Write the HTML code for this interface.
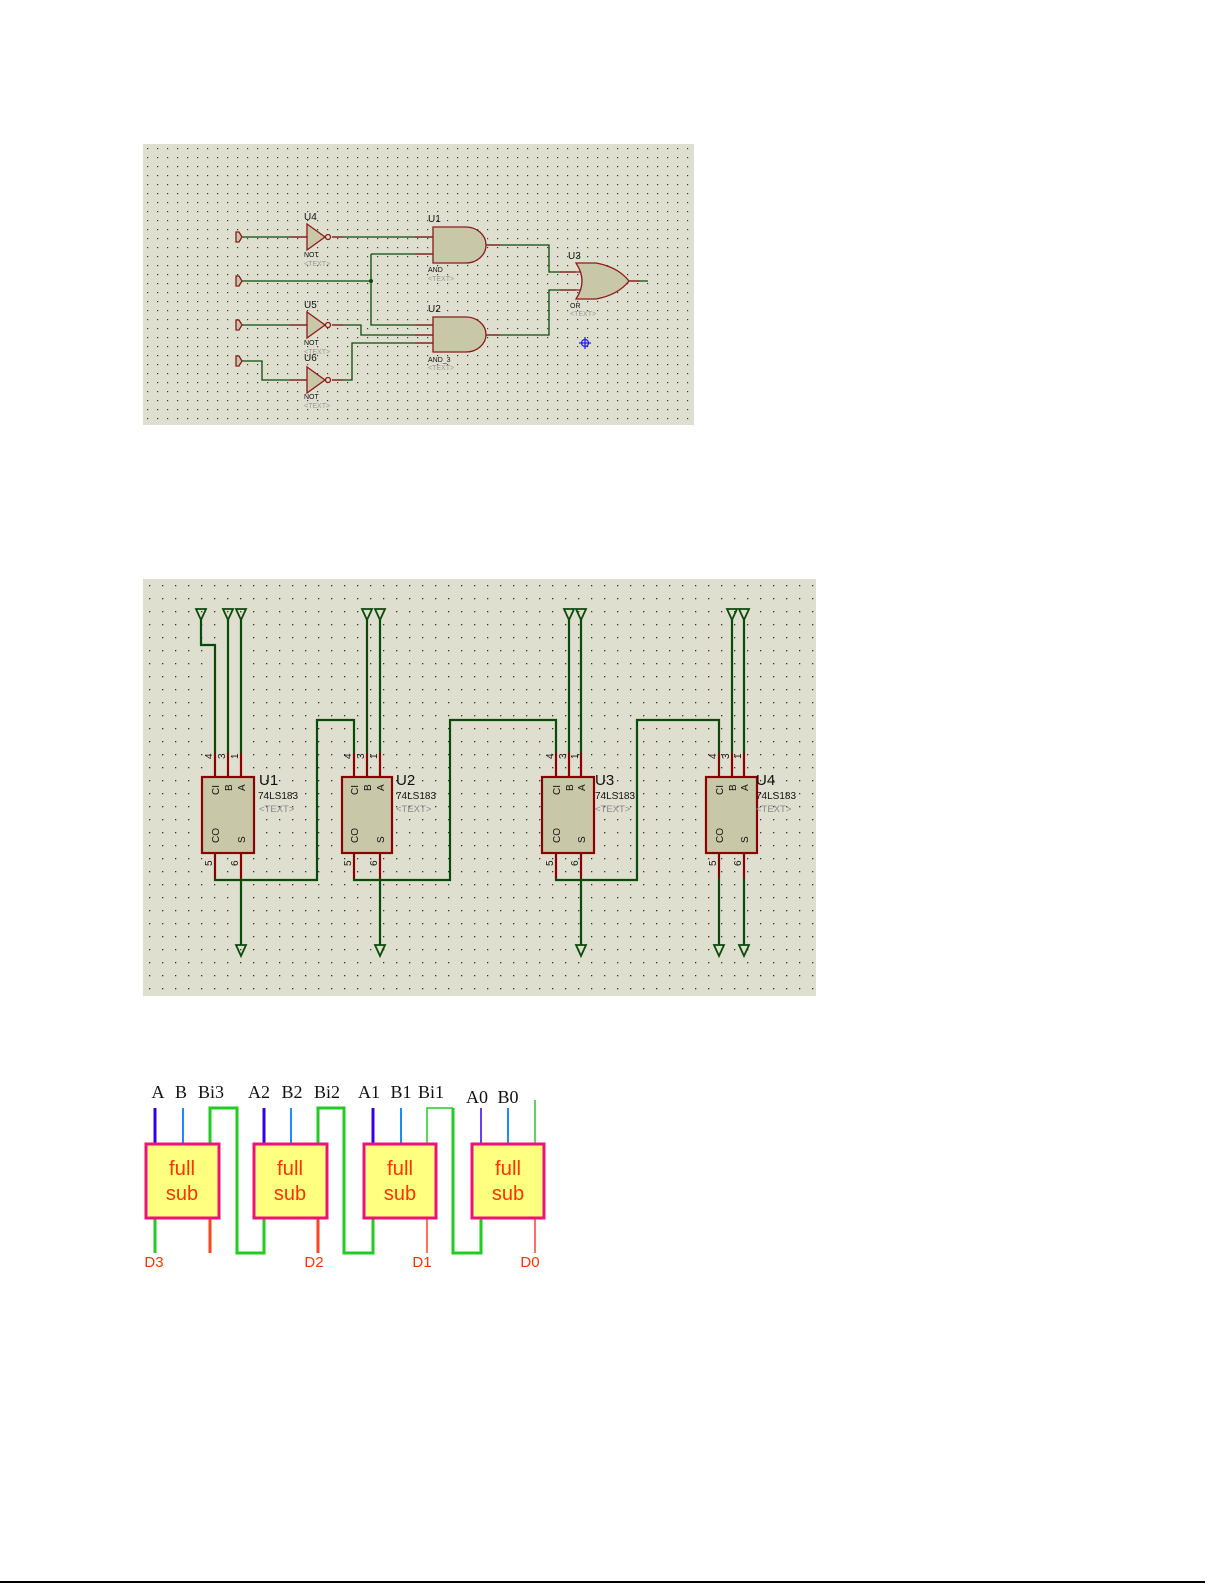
<!DOCTYPE html>
<html><head><meta charset="utf-8"><style>
html,body{margin:0;padding:0;background:#fff;width:1225px;height:1585px;overflow:hidden}
svg{display:block}
</style></head><body>
<svg width="1225" height="1585" viewBox="0 0 1225 1585" xmlns="http://www.w3.org/2000/svg" font-family="Liberation Sans, sans-serif">
<defs>
<pattern id="g1" x="143" y="144" width="10" height="9" patternUnits="userSpaceOnUse"><rect x="4" y="4" width="1.2" height="1.2" fill="#333"/></pattern>
<pattern id="g2" x="143" y="579" width="13" height="13" patternUnits="userSpaceOnUse"><rect x="6" y="6" width="1.3" height="1.3" fill="#333"/></pattern>
</defs>
<!-- Panel 1 -->
<rect x="143" y="144" width="551" height="281" fill="#dfdfcf"/>
<rect x="143" y="144" width="551" height="281" fill="url(#g1)"/>
<g fill="none" stroke-width="1.3">
<g stroke="#0c4a0c">
<path d="M241 237H307"/><path d="M332 237H433"/>
<path d="M241 281H371"/><path d="M371 254V325H433"/><path d="M371 254H433"/>
<path d="M241 325H307"/><path d="M332 325H361V335H433"/>
<path d="M241 361H262V380H307"/><path d="M332 380H352V343H433"/>
<path d="M486 245H549V272H576"/><path d="M486 335H549V290H576"/>
<path d="M629 281H648"/>
</g>
<g stroke="#8b1a1a">
<path d="M290 237H307M332 237H343M415 237H433M415 254H433"/>
<path d="M290 325H307M332 325H343M415 325H433M415 335H433M415 343H433"/>
<path d="M290 380H307M332 380H343"/>
<path d="M486 245H500M486 335H500M560 272H580M560 290H580M629 281H640"/>
</g>
<g stroke="#8b1a1a" fill="#c8c8a8">
<path d="M236 232H239L242 237L239 242H236Z"/>
<path d="M236 276H239L242 281L239 286H236Z"/>
<path d="M236 320H239L242 325L239 330H236Z"/>
<path d="M236 356H239L242 361L239 366H236Z"/>
<path d="M307 224L325 237L307 250Z"/><circle cx="328" cy="237" r="2.5" fill="#dfdfcf"/>
<path d="M307 312L325 325L307 338Z"/><circle cx="328" cy="325" r="2.5" fill="#dfdfcf"/>
<path d="M307 367L325 380L307 393Z"/><circle cx="328" cy="380" r="2.5" fill="#dfdfcf"/>
<path d="M433 227H466A20 18 0 0 1 466 263H433Z"/>
<path d="M433 317H466A20 17.5 0 0 1 466 352H433Z"/>
<path d="M576 263Q588 281 576 299H596Q618 295 629 281Q618 267 596 263Z"/>
</g>
<circle cx="371" cy="281" r="2" fill="#0c4a0c"/>
<g stroke="#2222dd"><circle cx="585" cy="343" r="3.5"/><path d="M585 337V349M579 343H591"/></g>
</g>
<g font-size="10" fill="#111">
<text x="304" y="220">U4</text><text x="304" y="308">U5</text><text x="304" y="361">U6</text>
<text x="428" y="222">U1</text><text x="428" y="312">U2</text><text x="568" y="259">U3</text>
</g>
<g font-size="7" fill="#111">
<text x="304" y="257">NOT</text><text x="304" y="345">NOT</text><text x="304" y="399">NOT</text>
<text x="428" y="272">AND</text><text x="428" y="362">AND_3</text><text x="570" y="308">OR</text>
</g>
<g font-size="7" fill="#999">
<text x="304" y="266">&lt;TEXT&gt;</text><text x="304" y="354">&lt;TEXT&gt;</text><text x="304" y="408">&lt;TEXT&gt;</text>
<text x="428" y="281">&lt;TEXT&gt;</text><text x="428" y="370">&lt;TEXT&gt;</text><text x="570" y="316">&lt;TEXT&gt;</text>
</g>

<!-- Panel 2 -->
<rect x="143" y="579" width="673" height="417" fill="#dfdfcf"/>
<rect x="143" y="579" width="673" height="417" fill="url(#g2)"/>
<g fill="none" stroke="#0c4a0c" stroke-width="2.2">
<path d="M201 620V645H215V753"/><path d="M228 620V753"/><path d="M241 620V753"/>
<path d="M367 620V753"/><path d="M380 620V753"/>
<path d="M569 620V753"/><path d="M581 620V753"/>
<path d="M732 620V753"/><path d="M744 620V753"/>
<path d="M215 878V880H317V720H354V753"/>
<path d="M354 878V880H450V720H556V753"/>
<path d="M556 878V880H637V720H719V753"/>
<path d="M241 878V945"/><path d="M380 878V945"/><path d="M581 878V945"/>
<path d="M719 878V945"/><path d="M744 878V945"/>
<g stroke-width="1.8">
<path d="M196 609H206L201 620Z"/><path d="M223 609H233L228 620Z"/><path d="M236 609H246L241 620Z"/>
<path d="M362 609H372L367 620Z"/><path d="M375 609H385L380 620Z"/>
<path d="M564 609H574L569 620Z"/><path d="M576 609H586L581 620Z"/>
<path d="M727 609H737L732 620Z"/><path d="M739 609H749L744 620Z"/>
<path d="M236 945H246L241 956Z"/><path d="M375 945H385L380 956Z"/><path d="M576 945H586L581 956Z"/>
<path d="M714 945H724L719 956Z"/><path d="M739 945H749L744 956Z"/>
</g>
</g>
<g stroke="#8b0000" stroke-width="2.2" fill="#c8c8a8">
<path d="M215 753V777M228 753V777M241 753V777M215 853V878M241 853V878"/>
<path d="M354 753V777M367 753V777M380 753V777M354 853V878M380 853V878"/>
<path d="M556 753V777M569 753V777M581 753V777M556 853V878M581 853V878"/>
<path d="M719 753V777M732 753V777M744 753V777M719 853V878M744 853V878"/>
<rect x="202" y="777" width="52" height="76"/>
<rect x="342" y="777" width="50" height="76"/>
<rect x="542" y="777" width="52" height="76"/>
<rect x="706" y="777" width="51" height="76"/>
</g>
<g font-size="10" fill="#111">
<g transform="translate(212,759) rotate(-90)"><text>4</text></g>
<g transform="translate(225,759) rotate(-90)"><text>3</text></g>
<g transform="translate(238,759) rotate(-90)"><text>1</text></g>
<g transform="translate(212,866) rotate(-90)"><text>5</text></g>
<g transform="translate(238,866) rotate(-90)"><text>6</text></g>
<g transform="translate(351,759) rotate(-90)"><text>4</text></g>
<g transform="translate(364,759) rotate(-90)"><text>3</text></g>
<g transform="translate(377,759) rotate(-90)"><text>1</text></g>
<g transform="translate(351,866) rotate(-90)"><text>5</text></g>
<g transform="translate(377,866) rotate(-90)"><text>6</text></g>
<g transform="translate(553,759) rotate(-90)"><text>4</text></g>
<g transform="translate(566,759) rotate(-90)"><text>3</text></g>
<g transform="translate(578,759) rotate(-90)"><text>1</text></g>
<g transform="translate(553,866) rotate(-90)"><text>5</text></g>
<g transform="translate(578,866) rotate(-90)"><text>6</text></g>
<g transform="translate(716,759) rotate(-90)"><text>4</text></g>
<g transform="translate(729,759) rotate(-90)"><text>3</text></g>
<g transform="translate(741,759) rotate(-90)"><text>1</text></g>
<g transform="translate(716,866) rotate(-90)"><text>5</text></g>
<g transform="translate(741,866) rotate(-90)"><text>6</text></g>
<g transform="translate(219,795) rotate(-90)"><text>CI</text></g>
<g transform="translate(232,791) rotate(-90)"><text>B</text></g>
<g transform="translate(245,791) rotate(-90)"><text>A</text></g>
<g transform="translate(219,843) rotate(-90)"><text>CO</text></g>
<g transform="translate(245,843) rotate(-90)"><text>S</text></g>
<g transform="translate(358,795) rotate(-90)"><text>CI</text></g>
<g transform="translate(371,791) rotate(-90)"><text>B</text></g>
<g transform="translate(384,791) rotate(-90)"><text>A</text></g>
<g transform="translate(358,843) rotate(-90)"><text>CO</text></g>
<g transform="translate(384,843) rotate(-90)"><text>S</text></g>
<g transform="translate(560,795) rotate(-90)"><text>CI</text></g>
<g transform="translate(573,791) rotate(-90)"><text>B</text></g>
<g transform="translate(585,791) rotate(-90)"><text>A</text></g>
<g transform="translate(560,843) rotate(-90)"><text>CO</text></g>
<g transform="translate(585,843) rotate(-90)"><text>S</text></g>
<g transform="translate(723,795) rotate(-90)"><text>CI</text></g>
<g transform="translate(736,791) rotate(-90)"><text>B</text></g>
<g transform="translate(748,791) rotate(-90)"><text>A</text></g>
<g transform="translate(723,843) rotate(-90)"><text>CO</text></g>
<g transform="translate(748,843) rotate(-90)"><text>S</text></g>
</g>
<g fill="#111">
<text x="259" y="785" font-size="15">U1</text><text x="396" y="785" font-size="15">U2</text>
<text x="595" y="785" font-size="15">U3</text><text x="756" y="785" font-size="15">U4</text>
<g font-size="10"><text x="258" y="799">74LS183</text><text x="396" y="799">74LS183</text><text x="595" y="799">74LS183</text><text x="756" y="799">74LS183</text></g>
<g font-size="9.5" fill="#888"><text x="259" y="812">&lt;TEXT&gt;</text><text x="396" y="812">&lt;TEXT&gt;</text><text x="595" y="812">&lt;TEXT&gt;</text><text x="756" y="812">&lt;TEXT&gt;</text></g>
</g>

<!-- Panel 3 -->
<g fill="none">
<g stroke="#3300ee" stroke-width="3"><path d="M155 1108V1144M264 1108V1144M373 1108V1144"/><path d="M481 1108V1144" stroke-width="1.5"/></g>
<g stroke="#1a8cff" stroke-width="2"><path d="M183 1108V1144M291 1108V1144M401 1108V1144M508 1108V1144"/></g>
<g stroke="#22cc22" stroke-width="3">
<path d="M210 1144V1108H237V1253H264V1218"/>
<path d="M318 1144V1108H344V1253H373V1218"/>
<path d="M155 1218V1253"/>
<path d="M453 1108V1253H481V1218" />
</g>
<g stroke="#22cc22" stroke-width="1.5"><path d="M427 1144V1108H453"/><path d="M535 1144V1100"/></g>
<g stroke="#ff4422" stroke-width="3"><path d="M210 1218V1253M318 1218V1253"/></g>
<g stroke="#ff4422" stroke-width="1.5"><path d="M427 1218V1253M535 1218V1253"/></g>
<g fill="#ffff80" stroke="#ee1177" stroke-width="3">
<rect x="146" y="1144" width="73" height="74"/><rect x="254" y="1144" width="73" height="74"/>
<rect x="364" y="1144" width="72" height="74"/><rect x="472" y="1144" width="72" height="74"/>
</g>
</g>
<g font-size="20" fill="#ff3300" text-anchor="middle">
<text x="182" y="1175" textLength="26" lengthAdjust="spacingAndGlyphs">full</text><text x="182" y="1200">sub</text>
<text x="290" y="1175" textLength="26" lengthAdjust="spacingAndGlyphs">full</text><text x="290" y="1200">sub</text>
<text x="400" y="1175" textLength="26" lengthAdjust="spacingAndGlyphs">full</text><text x="400" y="1200">sub</text>
<text x="508" y="1175" textLength="26" lengthAdjust="spacingAndGlyphs">full</text><text x="508" y="1200">sub</text>
</g>
<g font-family="Liberation Serif, serif" font-size="18" fill="#111" text-anchor="middle">
<text x="158" y="1098">A</text><text x="181" y="1098">B</text><text x="211" y="1098">Bi3</text>
<text x="259" y="1098">A2</text><text x="292" y="1098">B2</text><text x="327" y="1098">Bi2</text>
<text x="369" y="1098">A1</text><text x="401" y="1098">B1</text><text x="431" y="1098">Bi1</text>
<text x="477" y="1103">A0</text><text x="508" y="1103">B0</text>
</g>
<g font-size="15" fill="#ff3300" text-anchor="middle">
<text x="154" y="1267">D3</text><text x="314" y="1267">D2</text><text x="422" y="1267">D1</text><text x="530" y="1267">D0</text>
</g>
<rect x="0" y="1581" width="1205" height="2" fill="#000"/>
</svg>
</body></html>
